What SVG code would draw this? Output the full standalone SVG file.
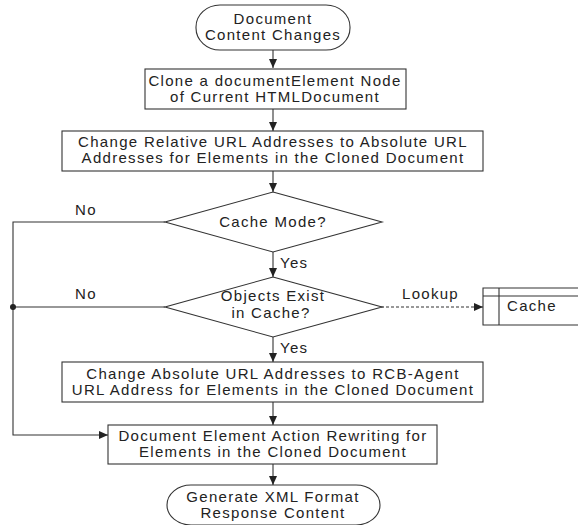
<svg xmlns="http://www.w3.org/2000/svg" width="578" height="525" viewBox="0 0 578 525">
<defs>
<marker id="ah" markerWidth="10" markerHeight="10" refX="9" refY="5" orient="auto" markerUnits="userSpaceOnUse">
<path d="M0,1 L9,5 L0,9 Z" fill="#222"/>
</marker>
<style>
text{font-family:"Liberation Sans",Arial,sans-serif;font-size:15px;fill:#222;letter-spacing:1.3px}
.c{text-anchor:middle}
.s{fill:#fff;stroke:#333;stroke-width:1.1}
.l{fill:none;stroke:#333;stroke-width:1.1}
</style>
</defs>
<rect width="578" height="525" fill="#fff"/>
<g id="connectors">
<line class="l" x1="273" y1="50" x2="273" y2="68" marker-end="url(#ah)"/>
<line class="l" x1="273" y1="109" x2="273" y2="131" marker-end="url(#ah)"/>
<line class="l" x1="273" y1="171" x2="273" y2="192" marker-end="url(#ah)"/>
<line class="l" x1="273" y1="252" x2="273" y2="277" marker-end="url(#ah)"/>
<line class="l" x1="273" y1="337" x2="273" y2="362" marker-end="url(#ah)"/>
<line class="l" x1="273" y1="402" x2="273" y2="425" marker-end="url(#ah)"/>
<line class="l" x1="273" y1="464" x2="273" y2="485" marker-end="url(#ah)"/>
<polyline class="l" points="165,222 13,222 13,435 108,435" marker-end="url(#ah)"/>
<line class="l" x1="165" y1="307" x2="13" y2="307"/>
<circle cx="13" cy="307" r="3" fill="#222"/>
<line class="l" x1="381" y1="307" x2="483" y2="307" stroke-dasharray="3,2" marker-end="url(#ah)"/>
<text x="280" y="268">Yes</text>
<text x="280" y="353">Yes</text>
<text x="75" y="215">No</text>
<text x="75" y="299">No</text>
<text x="402" y="299">Lookup</text>
</g>
<g id="start">
<rect class="s" x="196" y="5" width="154" height="45" rx="24" ry="22"/>
<text class="c" x="273" y="24">Document</text>
<text class="c" x="273" y="40">Content Changes</text>
</g>
<g id="clone">
<rect class="s" x="145" y="69" width="261" height="40"/>
<text class="c" x="275" y="86">Clone a documentElement Node</text>
<text class="c" x="275" y="102">of Current HTMLDocument</text>
</g>
<g id="relative">
<rect class="s" x="62" y="131" width="421" height="40"/>
<text class="c" x="273" y="147">Change Relative URL Addresses to Absolute URL</text>
<text class="c" x="273" y="163">Addresses for Elements in the Cloned Document</text>
</g>
<g id="cachemode">
<polygon class="s" points="273,192 382,222 273,252 165,222"/>
<text class="c" x="273" y="227">Cache Mode?</text>
</g>
<g id="exist">
<polygon class="s" points="273,277 382,307 273,337 165,307"/>
<text class="c" x="273" y="301">Objects Exist</text>
<text class="c" x="271" y="318">in Cache?</text>
</g>
<g id="cache">
<path class="l" d="M578,288 H483 V325 H578 M483,296 H578 M499,288 V325"/>
<text x="507" y="311">Cache</text>
</g>
<g id="absolute">
<rect class="s" x="62" y="362" width="421" height="40"/>
<text class="c" x="273" y="379">Change Absolute URL Addresses to RCB-Agent</text>
<text class="c" x="273" y="395">URL Address for Elements in the Cloned Document</text>
</g>
<g id="rewrite">
<rect class="s" x="108" y="425" width="329" height="39"/>
<text class="c" x="273" y="441">Document Element Action Rewriting for</text>
<text class="c" x="273" y="457">Elements in the Cloned Document</text>
</g>
<g id="end">
<rect class="s" x="167" y="485" width="213" height="40" rx="24" ry="20"/>
<text class="c" x="273" y="502">Generate XML Format</text>
<text class="c" x="273" y="518">Response Content</text>
</g>
</svg>
